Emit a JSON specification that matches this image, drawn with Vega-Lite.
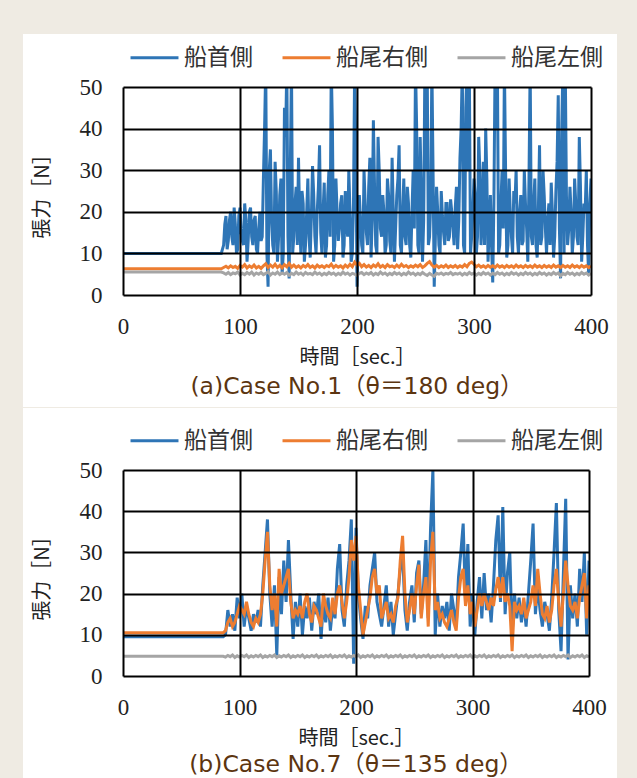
{
  "$schema": "https://vega.github.io/schema/vega-lite/v6.json",
  "background": "#efebe3",
  "padding": {"left": 22, "top": 32, "right": 21, "bottom": 0},
  "spacing": 0,
  "config": {
    "font": "Noto Sans CJK JP",
    "view": {"stroke": null},
    "axis": {
      "zindex": 1, "grid": true, "gridColor": "#000000", "gridWidth": 2, "gridOpacity": 1,
      "domain": false, "ticks": false, "labelFlush": false, "labelOverlap": false,
      "labelFont": "Liberation Serif", "labelFontSize": 23, "labelColor": "#222222",
      "titleFont": "Noto Sans CJK JP", "titleFontSize": 20, "titleFontWeight": "normal", "titleColor": "#222222"
    },
    "axisX": {"labelPadding": 20, "titlePadding": 9},
    "axisY": {"labelPadding": 21, "titlePadding": 27},
    "legend": {
      "orient": "top", "title": null, "direction": "horizontal", "symbolType": "stroke",
      "symbolStrokeWidth": 3, "symbolSize": 2300, "symbolOffset": 6, "labelFont": "Noto Sans CJK JP",
      "labelFontSize": 23, "labelColor": "#333333", "columnPadding": 22, "labelOffset": 4,
      "offset": 17, "padding": 0
    },
    "title": {"orient": "bottom", "anchor": "middle", "color": "#5c3510", "fontSize": 23.5, "font": "DejaVu Sans, Noto Sans CJK JP", "fontWeight": "normal"}
  },
  "resolve": {"scale": {"color": "independent"}, "legend": {"color": "independent"}},
  "vconcat": [
    {
      "width": 468, "height": 208,
      "title": {"text": "(a)Case No.1（θ＝180 deg）", "offset": -32},
      "layer": [
        {
          "data": {"values": [{}]},
          "mark": {"type": "rect", "color": "white"},
          "encoding": {
            "x": {"datum": -85.5, "type": "quantitative", "scale": {"domain": [0, 400], "nice": false, "zero": false}, "axis": {"title": "時間［sec.］", "zindex": 1, "values": [0, 100, 200, 300, 400]}},
            "x2": {"datum": 422.2},
            "y": {"datum": 62.74, "type": "quantitative", "scale": {"domain": [0, 50], "nice": false}, "axis": {"title": "張力［N］", "zindex": 1, "values": [0, 10, 20, 30, 40, 50]}},
            "y2": {"datum": -26.92}
          }
        },
        {
          "data": {"values": [
            {"t":0,"a":10,"b":6.3,"c":5.5},{"t":84,"a":10,"b":6.3,"c":5.5},
            {"t":86,"a":12,"b":6.6,"c":5.3},{"t":88,"a":19,"b":6.9,"c":5.0},{"t":90,"a":13,"b":6.5,"c":5.4},{"t":92,"a":20,"b":7.0,"c":4.9},
            {"t":94,"a":12,"b":6.6,"c":5.3},{"t":96,"a":17,"b":6.9,"c":5.1},{"t":98,"a":11,"b":6.4,"c":5.5},{"t":100,"a":21,"b":7.1,"c":4.8},
            {"t":102,"a":13,"b":6.7,"c":5.2},{"t":104,"a":22,"b":7.3,"c":4.9},{"t":106,"a":8,"b":6.5,"c":5.4},{"t":108,"a":20,"b":7.0,"c":5.0},
            {"t":110,"a":14,"b":6.6,"c":5.5},{"t":112,"a":18,"b":7.2,"c":4.8},{"t":114,"a":11,"b":6.5,"c":5.3},{"t":116,"a":16,"b":6.9,"c":5.0},
            {"t":118,"a":13,"b":6.4,"c":5.4},{"t":120,"a":28,"b":7.0,"c":4.9},{"t":122,"a":55,"b":7.5,"c":5.2},{"t":124,"a":2,"b":6.6,"c":5.6},
            {"t":126,"a":35,"b":7.2,"c":4.8},{"t":128,"a":12,"b":6.7,"c":5.3},{"t":130,"a":32,"b":7.4,"c":5.0},{"t":132,"a":8,"b":6.6,"c":5.5},
            {"t":134,"a":24,"b":7.1,"c":4.9},{"t":136,"a":5,"b":6.5,"c":5.3},{"t":138,"a":45,"b":7.3,"c":5.0},{"t":140,"a":55,"b":6.8,"c":5.4},
            {"t":142,"a":4,"b":7.6,"c":4.7},{"t":144,"a":55,"b":6.7,"c":5.2},{"t":146,"a":14,"b":7.2,"c":4.9},{"t":148,"a":26,"b":6.6,"c":5.5},
            {"t":150,"a":33,"b":7.0,"c":5.0},{"t":152,"a":10,"b":6.5,"c":5.3},{"t":154,"a":22,"b":7.1,"c":4.8},{"t":156,"a":12,"b":6.7,"c":5.4},
            {"t":158,"a":28,"b":7.3,"c":5.0},{"t":160,"a":9,"b":6.6,"c":5.2},{"t":162,"a":31,"b":7.0,"c":4.9},{"t":164,"a":14,"b":6.5,"c":5.5},
            {"t":166,"a":20,"b":7.2,"c":5.0},{"t":168,"a":36,"b":6.7,"c":5.3},{"t":170,"a":10,"b":7.0,"c":4.8},{"t":172,"a":27,"b":6.6,"c":5.2},
            {"t":174,"a":12,"b":7.1,"c":4.9},{"t":176,"a":30,"b":6.8,"c":5.4},{"t":178,"a":55,"b":7.4,"c":5.0},{"t":180,"a":8,"b":6.6,"c":5.3},
            {"t":182,"a":28,"b":7.1,"c":4.8},{"t":184,"a":13,"b":6.7,"c":5.2},{"t":186,"a":22,"b":7.0,"c":4.9},{"t":188,"a":9,"b":6.5,"c":5.5},
            {"t":190,"a":25,"b":7.2,"c":5.0},{"t":192,"a":14,"b":6.7,"c":5.3},{"t":194,"a":20,"b":7.4,"c":4.8},{"t":196,"a":10,"b":6.8,"c":5.2},
            {"t":198,"a":55,"b":7.9,"c":5.0},{"t":200,"a":2,"b":7.2,"c":4.7},{"t":202,"a":24,"b":7.6,"c":5.2},{"t":204,"a":12,"b":6.8,"c":5.4},
            {"t":206,"a":30,"b":7.3,"c":4.9},{"t":208,"a":15,"b":6.7,"c":5.3},{"t":210,"a":26,"b":7.1,"c":5.0},{"t":212,"a":9,"b":6.6,"c":5.4},
            {"t":214,"a":42,"b":7.2,"c":4.8},{"t":216,"a":12,"b":6.8,"c":5.2},{"t":218,"a":38,"b":7.5,"c":4.9},{"t":220,"a":16,"b":6.7,"c":5.5},
            {"t":222,"a":24,"b":7.1,"c":5.0},{"t":224,"a":10,"b":6.6,"c":5.3},{"t":226,"a":28,"b":7.3,"c":4.8},{"t":228,"a":13,"b":6.8,"c":5.2},
            {"t":230,"a":33,"b":7.0,"c":4.9},{"t":232,"a":8,"b":6.6,"c":5.4},{"t":234,"a":24,"b":7.2,"c":5.0},{"t":236,"a":36,"b":6.7,"c":5.3},
            {"t":238,"a":10,"b":7.4,"c":4.8},{"t":240,"a":28,"b":6.8,"c":5.2},{"t":242,"a":12,"b":7.1,"c":4.9},{"t":244,"a":22,"b":6.6,"c":5.5},
            {"t":246,"a":9,"b":7.0,"c":5.0},{"t":248,"a":30,"b":6.7,"c":5.3},{"t":250,"a":55,"b":7.2,"c":4.8},{"t":252,"a":12,"b":6.8,"c":5.2},
            {"t":254,"a":38,"b":7.3,"c":4.9},{"t":256,"a":8,"b":6.6,"c":5.4},{"t":258,"a":55,"b":7.0,"c":5.0},{"t":260,"a":55,"b":7.6,"c":4.7},
            {"t":262,"a":14,"b":8.0,"c":5.2},{"t":264,"a":55,"b":7.2,"c":4.8},{"t":266,"a":2,"b":6.7,"c":4.5},{"t":268,"a":26,"b":7.1,"c":5.2},
            {"t":270,"a":12,"b":6.6,"c":5.0},{"t":272,"a":25,"b":7.0,"c":5.3},{"t":274,"a":15,"b":6.7,"c":4.9},{"t":276,"a":22,"b":7.2,"c":5.2},
            {"t":278,"a":13,"b":6.6,"c":5.0},{"t":280,"a":23,"b":7.0,"c":5.4},{"t":282,"a":16,"b":6.7,"c":4.9},{"t":284,"a":21,"b":7.1,"c":5.2},
            {"t":286,"a":11,"b":6.6,"c":5.0},{"t":288,"a":33,"b":7.0,"c":5.3},{"t":290,"a":55,"b":6.7,"c":4.8},{"t":292,"a":10,"b":7.3,"c":5.2},
            {"t":294,"a":55,"b":6.8,"c":4.9},{"t":296,"a":55,"b":7.6,"c":5.4},{"t":298,"a":14,"b":7.9,"c":5.0},{"t":300,"a":28,"b":7.4,"c":5.3},
            {"t":302,"a":10,"b":6.8,"c":4.8},{"t":304,"a":38,"b":7.2,"c":5.2},{"t":306,"a":12,"b":6.7,"c":4.9},{"t":308,"a":32,"b":7.0,"c":5.4},
            {"t":310,"a":40,"b":6.6,"c":5.0},{"t":312,"a":8,"b":7.1,"c":5.3},{"t":314,"a":24,"b":6.7,"c":4.8},{"t":316,"a":3,"b":7.0,"c":5.2},
            {"t":318,"a":55,"b":6.6,"c":4.9},{"t":320,"a":55,"b":7.2,"c":5.4},{"t":322,"a":12,"b":6.7,"c":5.0},{"t":324,"a":30,"b":7.0,"c":5.3},
            {"t":326,"a":55,"b":6.6,"c":4.8},{"t":328,"a":9,"b":7.1,"c":5.2},{"t":330,"a":28,"b":6.7,"c":4.9},{"t":332,"a":14,"b":7.0,"c":5.4},
            {"t":334,"a":25,"b":6.6,"c":5.0},{"t":336,"a":30,"b":7.2,"c":5.3},{"t":338,"a":10,"b":6.7,"c":4.8},{"t":340,"a":24,"b":7.0,"c":5.2},
            {"t":342,"a":13,"b":6.6,"c":4.9},{"t":344,"a":22,"b":7.1,"c":5.4},{"t":346,"a":8,"b":6.7,"c":5.0},{"t":348,"a":55,"b":7.0,"c":5.3},
            {"t":350,"a":12,"b":6.6,"c":4.8},{"t":352,"a":28,"b":7.2,"c":5.2},{"t":354,"a":9,"b":6.7,"c":4.9},{"t":356,"a":36,"b":7.0,"c":5.4},
            {"t":358,"a":14,"b":6.6,"c":5.0},{"t":360,"a":24,"b":7.1,"c":5.3},{"t":362,"a":10,"b":6.7,"c":4.8},{"t":364,"a":22,"b":7.0,"c":5.2},
            {"t":366,"a":27,"b":6.6,"c":4.9},{"t":368,"a":9,"b":7.2,"c":5.4},{"t":370,"a":25,"b":6.7,"c":5.0},{"t":372,"a":48,"b":7.0,"c":5.3},
            {"t":374,"a":4,"b":6.6,"c":4.6},{"t":376,"a":55,"b":7.1,"c":5.2},{"t":378,"a":55,"b":6.7,"c":4.9},{"t":380,"a":12,"b":7.0,"c":5.4},
            {"t":382,"a":26,"b":6.6,"c":5.0},{"t":384,"a":10,"b":7.2,"c":5.3},{"t":386,"a":28,"b":6.7,"c":4.8},{"t":388,"a":14,"b":7.0,"c":5.2},
            {"t":390,"a":38,"b":6.6,"c":4.9},{"t":392,"a":8,"b":7.1,"c":5.4},{"t":394,"a":22,"b":6.7,"c":5.0},{"t":396,"a":30,"b":7.0,"c":5.3},
            {"t":398,"a":5,"b":6.6,"c":4.8},{"t":400,"a":28,"b":7.0,"c":5.2},
            {"t":87,"a":17},{"t":89,"a":11},{"t":91,"a":18},{"t":93,"a":14},{"t":95,"a":21},{"t":97,"a":10},{"t":99,"a":19},{"t":101,"a":15},{"t":103,"a":12},{"t":105,"a":18},
            {"t":107,"a":13},{"t":109,"a":21},{"t":111,"a":12},{"t":113,"a":19},{"t":115,"a":10},{"t":117,"a":20},{"t":119,"a":14},{"t":121,"a":40},{"t":123,"a":10},{"t":125,"a":30},
            {"t":127,"a":18},{"t":129,"a":10},{"t":131,"a":25},{"t":133,"a":14},{"t":135,"a":28},{"t":137,"a":10},{"t":139,"a":38},{"t":141,"a":14},{"t":143,"a":30},{"t":145,"a":10},
            {"t":147,"a":22},{"t":149,"a":12},{"t":151,"a":18},{"t":153,"a":25},{"t":155,"a":8},{"t":157,"a":20},{"t":159,"a":14},{"t":161,"a":19},{"t":163,"a":24},{"t":165,"a":10},
            {"t":167,"a":26},{"t":169,"a":15},{"t":171,"a":20},{"t":173,"a":9},{"t":175,"a":24},{"t":177,"a":14},{"t":179,"a":40},{"t":181,"a":12},{"t":183,"a":20},{"t":185,"a":16},
            {"t":187,"a":24},{"t":189,"a":12},{"t":191,"a":18},{"t":193,"a":30},{"t":195,"a":8},{"t":197,"a":22},{"t":199,"a":35},{"t":201,"a":12},{"t":203,"a":18},{"t":205,"a":10},
            {"t":207,"a":22},{"t":209,"a":12},{"t":211,"a":33},{"t":213,"a":18},{"t":215,"a":26},{"t":217,"a":10},{"t":219,"a":30},{"t":221,"a":14},{"t":223,"a":20},{"t":225,"a":12},
            {"t":227,"a":24},{"t":229,"a":10},{"t":231,"a":20},{"t":233,"a":16},{"t":235,"a":28},{"t":237,"a":12},{"t":239,"a":20},{"t":241,"a":14},{"t":243,"a":26},{"t":245,"a":12},
            {"t":247,"a":20},{"t":249,"a":16},{"t":251,"a":40},{"t":253,"a":10},{"t":255,"a":24},{"t":257,"a":18},{"t":259,"a":30},{"t":261,"a":12},{"t":263,"a":22},{"t":265,"a":30},
            {"t":267,"a":14},{"t":269,"a":20},{"t":271,"a":10},{"t":273,"a":19},{"t":275,"a":12},{"t":277,"a":22},{"t":279,"a":14},{"t":281,"a":20},{"t":283,"a":12},{"t":285,"a":26},
            {"t":287,"a":18},{"t":289,"a":40},{"t":291,"a":12},{"t":293,"a":45},{"t":295,"a":30},{"t":297,"a":10},{"t":299,"a":20},{"t":301,"a":24},{"t":303,"a":14},{"t":305,"a":30},
            {"t":307,"a":18},{"t":309,"a":12},{"t":311,"a":28},{"t":313,"a":16},{"t":315,"a":12},{"t":317,"a":22},{"t":319,"a":40},{"t":321,"a":10},{"t":323,"a":22},{"t":325,"a":16},
            {"t":327,"a":30},{"t":329,"a":12},{"t":331,"a":20},{"t":333,"a":10},{"t":335,"a":22},{"t":337,"a":14},{"t":339,"a":20},{"t":341,"a":12},{"t":343,"a":30},{"t":345,"a":16},
            {"t":347,"a":28},{"t":349,"a":14},{"t":351,"a":22},{"t":353,"a":12},{"t":355,"a":20},{"t":357,"a":12},{"t":359,"a":30},{"t":361,"a":16},{"t":363,"a":18},{"t":365,"a":12},
            {"t":367,"a":20},{"t":369,"a":14},{"t":371,"a":32},{"t":373,"a":16},{"t":375,"a":40},{"t":377,"a":10},{"t":379,"a":24},{"t":381,"a":16},{"t":383,"a":20},{"t":385,"a":14},
            {"t":387,"a":22},{"t":389,"a":12},{"t":391,"a":26},{"t":393,"a":14},{"t":395,"a":20},{"t":397,"a":12},{"t":399,"a":22}
          ]},
          "transform": [{"fold": ["a", "b", "c"], "as": ["s", "v"]}],
          "mark": {"type": "line", "clip": true, "strokeWidth": 3, "invalid": "filter"},
          "encoding": {
            "x": {"field": "t", "type": "quantitative", "scale": {"domain": [0, 400], "nice": false, "zero": false}, "axis": {"title": "時間［sec.］", "zindex": 1, "values": [0, 100, 200, 300, 400]}},
            "y": {"field": "v", "type": "quantitative", "scale": {"domain": [0, 50], "nice": false}, "axis": {"title": "張力［N］", "zindex": 1, "values": [0, 10, 20, 30, 40, 50]}},
            "color": {
              "field": "s", "type": "nominal",
              "scale": {"domain": ["a", "b", "c"], "range": ["#2e75b6", "#ed7d31", "#a5a5a5"]},
              "legend": {"labelExpr": "datum.label == 'a' ? '船首側' : datum.label == 'b' ? '船尾右側' : '船尾左側'"}
            }
          }
        }
      ]
    },
    {
      "width": 466, "height": 206,
      "title": {"text": "(b)Case No.7（θ＝135 deg）", "offset": -28},
      "layer": [
        {
          "data": {"values": [{}]},
          "mark": {"type": "rect", "color": "white"},
          "encoding": {
            "x": {"datum": -85.84, "type": "quantitative", "scale": {"domain": [0, 400], "nice": false, "zero": false}, "axis": {"title": "時間［sec.］", "zindex": 1, "values": [0, 100, 200, 300, 400]}},
            "x2": {"datum": 424.0},
            "y": {"datum": 65.05, "type": "quantitative", "scale": {"domain": [0, 50], "nice": false}, "axis": {"title": "張力［N］", "zindex": 1, "values": [0, 10, 20, 30, 40, 50]}},
            "y2": {"datum": -25.49}
          }
        },
        {
          "data": {"values": [
            {"t":0,"a":9.5,"b":10.5,"c":4.8},{"t":86,"a":9.5,"b":10.5,"c":4.8},
            {"t":88,"a":10,"b":11,"c":4.6},{"t":90,"a":16,"b":13,"c":5.0},{"t":92,"a":12,"b":14,"c":4.7},{"t":94,"a":15,"b":12,"c":5.1},
            {"t":96,"a":11,"b":13,"c":4.5},{"t":98,"a":19,"b":15,"c":4.9},{"t":100,"a":14,"b":17,"c":4.6},{"t":102,"a":20,"b":16,"c":5.0},
            {"t":104,"a":12,"b":15,"c":4.7},{"t":106,"a":17,"b":18,"c":5.1},{"t":108,"a":14,"b":15,"c":4.5},{"t":110,"a":11,"b":13,"c":4.9},
            {"t":112,"a":15,"b":12,"c":4.6},{"t":114,"a":13,"b":14,"c":5.0},{"t":116,"a":16,"b":13,"c":4.7},{"t":118,"a":12,"b":15,"c":5.1},
            {"t":120,"a":22,"b":20,"c":4.5},{"t":122,"a":30,"b":28,"c":4.9},{"t":124,"a":38,"b":35,"c":4.6},{"t":126,"a":20,"b":22,"c":5.0},
            {"t":128,"a":12,"b":16,"c":4.7},{"t":130,"a":22,"b":20,"c":5.1},{"t":132,"a":5,"b":12,"c":4.5},{"t":134,"a":24,"b":26,"c":4.9},
            {"t":136,"a":15,"b":20,"c":4.6},{"t":138,"a":28,"b":22,"c":5.0},{"t":140,"a":18,"b":24,"c":4.7},{"t":142,"a":33,"b":26,"c":5.1},
            {"t":144,"a":20,"b":18,"c":4.5},{"t":146,"a":9,"b":14,"c":4.9},{"t":148,"a":18,"b":16,"c":4.6},{"t":150,"a":12,"b":15,"c":5.0},
            {"t":152,"a":20,"b":17,"c":4.7},{"t":154,"a":10,"b":14,"c":5.1},{"t":156,"a":17,"b":18,"c":4.5},{"t":158,"a":14,"b":20,"c":4.9},
            {"t":160,"a":19,"b":15,"c":4.6},{"t":162,"a":11,"b":13,"c":5.0},{"t":164,"a":18,"b":17,"c":4.7},{"t":166,"a":15,"b":16,"c":5.1},
            {"t":168,"a":20,"b":14,"c":4.5},{"t":170,"a":9,"b":12,"c":4.9},{"t":172,"a":18,"b":20,"c":4.6},{"t":174,"a":13,"b":17,"c":5.0},
            {"t":176,"a":19,"b":15,"c":4.7},{"t":178,"a":11,"b":14,"c":5.1},{"t":180,"a":17,"b":19,"c":4.5},{"t":182,"a":14,"b":15,"c":4.9},
            {"t":184,"a":26,"b":20,"c":4.6},{"t":186,"a":32,"b":22,"c":5.0},{"t":188,"a":16,"b":18,"c":4.7},{"t":190,"a":12,"b":14,"c":5.1},
            {"t":192,"a":22,"b":18,"c":4.5},{"t":194,"a":28,"b":24,"c":4.9},{"t":196,"a":38,"b":33,"c":4.6},{"t":198,"a":3,"b":28,"c":5.0},
            {"t":200,"a":36,"b":34,"c":4.7},{"t":202,"a":20,"b":22,"c":5.1},{"t":204,"a":14,"b":16,"c":4.5},{"t":206,"a":9,"b":10,"c":4.9},
            {"t":208,"a":17,"b":13,"c":4.6},{"t":210,"a":14,"b":16,"c":5.0},{"t":212,"a":22,"b":19,"c":4.7},{"t":214,"a":26,"b":24,"c":5.1},
            {"t":216,"a":30,"b":26,"c":4.5},{"t":218,"a":18,"b":20,"c":4.9},{"t":220,"a":15,"b":22,"c":4.6},{"t":222,"a":12,"b":14,"c":5.0},
            {"t":224,"a":17,"b":16,"c":4.7},{"t":226,"a":22,"b":18,"c":5.1},{"t":228,"a":12,"b":14,"c":4.5},{"t":230,"a":18,"b":15,"c":4.9},
            {"t":232,"a":10,"b":13,"c":4.6},{"t":234,"a":15,"b":17,"c":5.0},{"t":236,"a":20,"b":19,"c":4.7},{"t":238,"a":26,"b":28,"c":5.1},
            {"t":240,"a":30,"b":34,"c":4.5},{"t":242,"a":16,"b":20,"c":4.9},{"t":244,"a":11,"b":13,"c":4.6},{"t":246,"a":18,"b":16,"c":5.0},
            {"t":248,"a":22,"b":20,"c":4.7},{"t":250,"a":13,"b":15,"c":5.1},{"t":252,"a":25,"b":22,"c":4.5},{"t":254,"a":28,"b":27,"c":4.9},
            {"t":256,"a":15,"b":14,"c":4.6},{"t":258,"a":22,"b":20,"c":5.0},{"t":260,"a":33,"b":24,"c":4.7},{"t":262,"a":14,"b":12,"c":5.1},
            {"t":264,"a":36,"b":28,"c":4.5},{"t":266,"a":50,"b":35,"c":4.9},{"t":268,"a":10,"b":16,"c":4.6},{"t":270,"a":20,"b":18,"c":5.0},
            {"t":272,"a":12,"b":14,"c":4.7},{"t":274,"a":17,"b":15,"c":5.1},{"t":276,"a":14,"b":13,"c":4.5},{"t":278,"a":18,"b":12,"c":4.9},
            {"t":280,"a":11,"b":14,"c":4.6},{"t":282,"a":20,"b":16,"c":5.0},{"t":284,"a":16,"b":13,"c":4.7},{"t":286,"a":12,"b":11,"c":5.1},
            {"t":288,"a":24,"b":19,"c":4.5},{"t":290,"a":30,"b":24,"c":4.9},{"t":292,"a":37,"b":26,"c":4.6},{"t":294,"a":18,"b":17,"c":5.0},
            {"t":296,"a":32,"b":22,"c":4.7},{"t":298,"a":12,"b":15,"c":5.1},{"t":300,"a":20,"b":18,"c":4.5},{"t":302,"a":10,"b":12,"c":4.9},
            {"t":304,"a":18,"b":16,"c":4.6},{"t":306,"a":24,"b":20,"c":5.0},{"t":308,"a":14,"b":17,"c":4.7},{"t":310,"a":25,"b":20,"c":5.1},
            {"t":312,"a":16,"b":18,"c":4.5},{"t":314,"a":20,"b":16,"c":4.9},{"t":316,"a":13,"b":19,"c":4.6},{"t":318,"a":22,"b":17,"c":5.0},
            {"t":320,"a":33,"b":21,"c":4.7},{"t":322,"a":39,"b":24,"c":5.1},{"t":324,"a":18,"b":19,"c":4.5},{"t":326,"a":41,"b":24,"c":4.9},
            {"t":328,"a":15,"b":18,"c":4.6},{"t":330,"a":25,"b":20,"c":5.0},{"t":332,"a":30,"b":17,"c":4.7},{"t":334,"a":10,"b":6,"c":5.1},
            {"t":336,"a":20,"b":18,"c":4.5},{"t":338,"a":14,"b":16,"c":4.9},{"t":340,"a":19,"b":17,"c":4.6},{"t":342,"a":13,"b":15,"c":5.0},
            {"t":344,"a":18,"b":19,"c":4.7},{"t":346,"a":12,"b":14,"c":5.1},{"t":348,"a":20,"b":16,"c":4.5},{"t":350,"a":28,"b":18,"c":4.9},
            {"t":352,"a":37,"b":22,"c":4.6},{"t":354,"a":15,"b":17,"c":5.0},{"t":356,"a":22,"b":26,"c":4.7},{"t":358,"a":16,"b":20,"c":5.1},
            {"t":360,"a":12,"b":15,"c":4.5},{"t":362,"a":18,"b":14,"c":4.9},{"t":364,"a":15,"b":17,"c":4.6},{"t":366,"a":11,"b":13,"c":5.0},
            {"t":368,"a":19,"b":16,"c":4.7},{"t":370,"a":30,"b":22,"c":5.1},{"t":372,"a":42,"b":26,"c":4.5},{"t":374,"a":16,"b":18,"c":4.9},
            {"t":376,"a":6,"b":12,"c":4.6},{"t":378,"a":25,"b":20,"c":5.0},{"t":380,"a":43,"b":28,"c":4.7},{"t":382,"a":4,"b":22,"c":5.1},
            {"t":384,"a":22,"b":17,"c":4.5},{"t":386,"a":14,"b":16,"c":4.9},{"t":388,"a":20,"b":18,"c":4.6},{"t":390,"a":12,"b":14,"c":5.0},
            {"t":392,"a":26,"b":19,"c":4.7},{"t":394,"a":18,"b":22,"c":5.1},{"t":396,"a":30,"b":25,"c":4.5},{"t":398,"a":10,"b":14,"c":4.9},
            {"t":400,"a":28,"b":22,"c":4.6}
          ]},
          "transform": [{"fold": ["a", "b", "c"], "as": ["s", "v"]}],
          "mark": {"type": "line", "clip": true, "strokeWidth": 3, "invalid": "filter"},
          "encoding": {
            "x": {"field": "t", "type": "quantitative", "scale": {"domain": [0, 400], "nice": false, "zero": false}, "axis": {"title": "時間［sec.］", "zindex": 1, "values": [0, 100, 200, 300, 400]}},
            "y": {"field": "v", "type": "quantitative", "scale": {"domain": [0, 50], "nice": false}, "axis": {"title": "張力［N］", "zindex": 1, "values": [0, 10, 20, 30, 40, 50]}},
            "color": {
              "field": "s", "type": "nominal",
              "scale": {"domain": ["a", "b", "c"], "range": ["#2e75b6", "#ed7d31", "#a5a5a5"]},
              "legend": {"labelExpr": "datum.label == 'a' ? '船首側' : datum.label == 'b' ? '船尾右側' : '船尾左側'"}
            }
          }
        }
      ]
    }
  ]
}
